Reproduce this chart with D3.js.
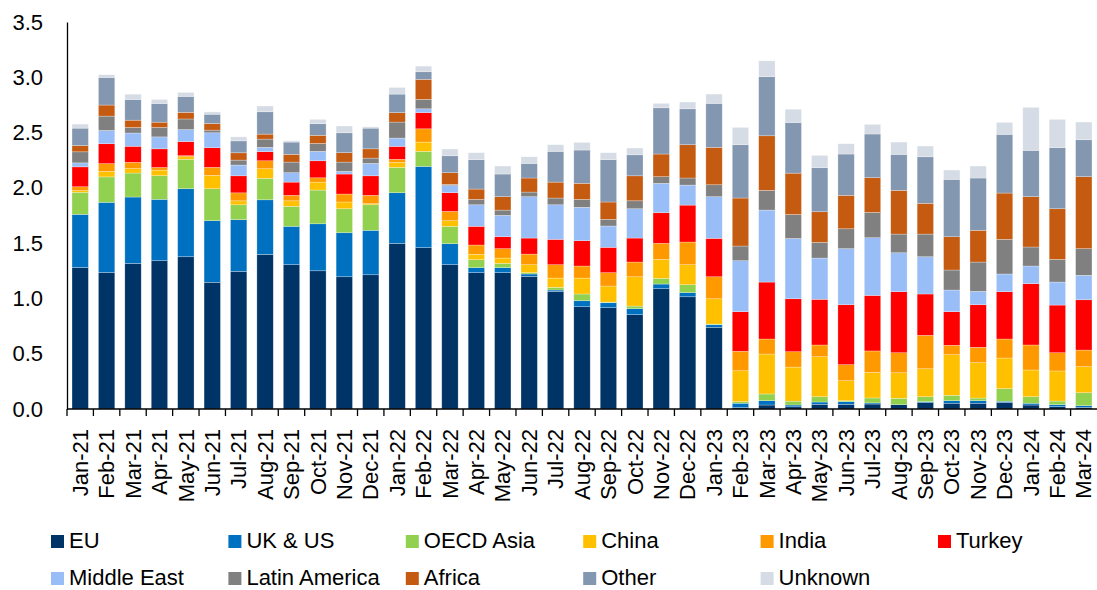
<!DOCTYPE html>
<html>
<head>
<meta charset="utf-8">
<script src="https://cdn.jsdelivr.net/npm/d3@7"></script>
<style>
  body { margin: 0; background: #fff; }
  svg text { font-family: "Liberation Sans", Arial, sans-serif; fill: #000; }
</style>
</head>
<body>
<svg class="chart-svg" width="1097" height="590"></svg>
<script>
var months = ["Jan-21","Feb-21","Mar-21","Apr-21","May-21","Jun-21","Jul-21","Aug-21","Sep-21","Oct-21","Nov-21","Dec-21",
    "Jan-22","Feb-22","Mar-22","Apr-22","May-22","Jun-22","Jul-22","Aug-22","Sep-22","Oct-22","Nov-22","Dec-22",
    "Jan-23","Feb-23","Mar-23","Apr-23","May-23","Jun-23","Jul-23","Aug-23","Sep-23","Oct-23","Nov-23","Dec-23",
    "Jan-24","Feb-24","Mar-24"];

var seriesNames = ["EU", "UK & US", "OECD Asia", "China", "India", "Turkey", "Middle East", "Latin America", "Africa", "Other", "Unknown"];

var eu = [1.28,1.236,1.317,1.341,1.377,1.146,1.245,1.398,1.305,1.25,1.196,1.214,1.498,1.459,1.305,1.233,1.233,1.20,1.064,0.925,0.916,0.853,1.088,1.015,0.739,0.012,0.036,0.02,0.042,0.042,0.045,0.039,0.057,0.052,0.052,0.06,0.036,0.021,0.015];
var ukUs = [0.48,0.633,0.60,0.555,0.615,0.557,0.467,0.494,0.347,0.425,0.398,0.402,0.458,0.735,0.19,0.045,0.045,0.021,0.012,0.054,0.045,0.054,0.042,0.037,0.023,0.04,0.039,0.016,0.021,0.024,0.01,0.0,0.009,0.023,0.023,0.01,0.016,0.018,0.015];
var oecdAsia = [0.20,0.23,0.217,0.214,0.266,0.289,0.135,0.194,0.181,0.305,0.217,0.231,0.229,0.136,0.157,0.072,0.039,0.012,0.024,0.061,0.006,0.024,0.052,0.072,0.006,0.014,0.061,0.035,0.048,0.009,0.045,0.058,0.045,0.049,0.024,0.114,0.059,0.033,0.117];
var china = [0.015,0.05,0.04,0.05,0.023,0.121,0.036,0.087,0.05,0.072,0.061,0.01,0.045,0.084,0.051,0.049,0.048,0.072,0.084,0.144,0.145,0.265,0.171,0.181,0.229,0.28,0.361,0.308,0.362,0.181,0.231,0.231,0.253,0.367,0.32,0.277,0.242,0.272,0.236];
var india = [0.035,0.07,0.057,0.024,0.01,0.072,0.072,0.072,0.049,0.039,0.072,0.075,0.028,0.12,0.084,0.084,0.085,0.096,0.121,0.109,0.121,0.133,0.145,0.205,0.199,0.176,0.136,0.139,0.106,0.145,0.194,0.181,0.302,0.085,0.139,0.172,0.226,0.165,0.15];
var turkey = [0.18,0.18,0.145,0.169,0.127,0.178,0.154,0.082,0.12,0.154,0.181,0.177,0.117,0.146,0.169,0.169,0.108,0.145,0.229,0.229,0.229,0.217,0.277,0.334,0.347,0.358,0.515,0.479,0.413,0.542,0.502,0.552,0.374,0.304,0.385,0.428,0.554,0.431,0.455];
var middleEast = [0.036,0.12,0.12,0.108,0.109,0.135,0.097,0.039,0.085,0.085,0.024,0.112,0.075,0.035,0.064,0.195,0.193,0.374,0.313,0.302,0.193,0.265,0.266,0.181,0.377,0.461,0.651,0.545,0.373,0.507,0.522,0.352,0.337,0.196,0.121,0.16,0.16,0.208,0.221];
var latinAmerica = [0.10,0.13,0.05,0.085,0.096,0.024,0.045,0.075,0.096,0.072,0.084,0.048,0.145,0.085,0.012,0.049,0.048,0.042,0.061,0.072,0.06,0.072,0.06,0.064,0.108,0.133,0.178,0.217,0.142,0.18,0.229,0.169,0.205,0.181,0.265,0.313,0.172,0.205,0.241];
var africa = [0.057,0.10,0.066,0.048,0.06,0.06,0.066,0.045,0.07,0.073,0.085,0.084,0.085,0.181,0.105,0.093,0.121,0.127,0.144,0.145,0.157,0.226,0.205,0.301,0.338,0.434,0.494,0.374,0.277,0.302,0.314,0.395,0.278,0.301,0.287,0.419,0.455,0.458,0.651];
var other = [0.157,0.25,0.187,0.169,0.144,0.084,0.108,0.202,0.111,0.105,0.18,0.187,0.168,0.069,0.153,0.266,0.205,0.132,0.278,0.301,0.383,0.19,0.418,0.325,0.398,0.482,0.534,0.458,0.398,0.374,0.395,0.326,0.421,0.519,0.473,0.531,0.419,0.552,0.334];
var unknown = [0.036,0.024,0.048,0.036,0.036,0.021,0.036,0.052,0.012,0.039,0.061,0.012,0.06,0.051,0.061,0.063,0.072,0.06,0.06,0.069,0.063,0.061,0.04,0.061,0.084,0.157,0.144,0.12,0.112,0.093,0.087,0.111,0.097,0.084,0.108,0.108,0.389,0.256,0.16];

var yTicks = [0, 0.5, 1.0, 1.5, 2.0, 2.5, 3.0, 3.5];

var colors = ["#003366", "#0070C0", "#92D050", "#FFC000", "#FF9900", "#FF0000", "#99BDF7", "#808080", "#C55A11", "#8497B0", "#D6DCE5"];

var seriesValues = [eu, ukUs, oecdAsia, china, india, turkey, middleEast, latinAmerica, africa, other, unknown];

var svg = d3.select(".chart-svg");
var margin = {top: 22, left: 67, right: 0, bottom: 181};
var width = +svg.attr("width");
var height = +svg.attr("height");

// rows for d3.stack
var table = months.map(function(m, i) {
    var row = {month: m};
    seriesNames.forEach(function(s, j) { row[s] = seriesValues[j][i]; });
    return row;
});

var stacked = d3.stack().keys(seriesNames)(table);

var x = d3.scaleBand()
    .domain(months)
    .range([margin.left, width - margin.right])
    .paddingInner(0.38)
    .paddingOuter(0.19);

var y = d3.scaleLinear()
    .domain([0, 3.5])
    .range([height - margin.bottom, margin.top]);

var color = d3.scaleOrdinal().domain(seriesNames).range(colors);

var layers = svg.append("g")
    .attr("class", "layers")
    .selectAll("g")
    .data(stacked)
    .enter().append("g")
    .attr("fill", function(d) { return color(d.key); });

layers.selectAll("rect")
    .data(function(d) { return d; })
    .enter().append("rect")
    .attr("x", function(d) { return x(d.data.month); })
    .attr("width", x.bandwidth())
    .attr("y", function(d) { return y(d[1]); })
    .attr("height", function(d) { return Math.max(0, y(d[0]) - y(d[1])); })
    .attr("stroke", "#ffffff")
    .attr("stroke-opacity", 0.45)
    .attr("stroke-width", 0.6);

// y axis: line + labels, no tick marks
var yAxis = svg.append("g")
    .attr("class", "y-axis")
    .attr("transform", "translate(" + margin.left + ",0)")
    .call(d3.axisLeft(y).tickValues(yTicks).tickFormat(d3.format(".1f")).tickSize(0).tickPadding(24));

yAxis.select(".domain").attr("stroke", "#000").attr("stroke-width", 1.3);
yAxis.selectAll("text")
    .style("font-size", "22px")
    .attr("fill", "#000");

// x axis: ticks between bands
var xAxisG = svg.append("g")
    .attr("class", "x-axis")
    .attr("transform", "translate(0," + y(0) + ")");

xAxisG.append("line")
    .attr("x1", margin.left)
    .attr("x2", width)
    .attr("stroke", "#000")
    .attr("stroke-width", 1.3);

var step = x.step();
xAxisG.selectAll("line.tick")
    .data(months)
    .enter().append("line")
    .attr("class", "tick")
    .attr("x1", function(d, i) { return margin.left + i * step; })
    .attr("x2", function(d, i) { return margin.left + i * step; })
    .attr("y1", 0)
    .attr("y2", 7)
    .attr("stroke", "#000")
    .attr("stroke-width", 1.3);

xAxisG.selectAll("text")
    .data(months)
    .enter().append("text")
    .attr("transform", function(d) {
        return "translate(" + (x(d) + x.bandwidth() / 2) + ",20) rotate(-90)";
    })
    .attr("dy", "0.35em")
    .attr("text-anchor", "end")
    .style("font-size", "22px")
    .text(function(d) { return d; });

// legend, 6 columns x 2 rows
var legend = svg.append("g")
    .attr("class", "legend")
    .selectAll("g")
    .data(seriesNames)
    .enter().append("g")
    .attr("transform", function(d, i) {
        var col = i < 6 ? i : i - 6;
        var row = i < 6 ? 0 : 1;
        return "translate(" + (51 + col * 177.4) + "," + (535 + row * 37) + ")";
    });

legend.append("rect")
    .attr("width", 13)
    .attr("height", 13)
    .attr("fill", function(d) { return color(d); });

legend.append("text")
    .attr("x", 18)
    .attr("y", 13)
    .style("font-size", "22px")
    .text(function(d) { return d; });
</script>
</body>
</html>
